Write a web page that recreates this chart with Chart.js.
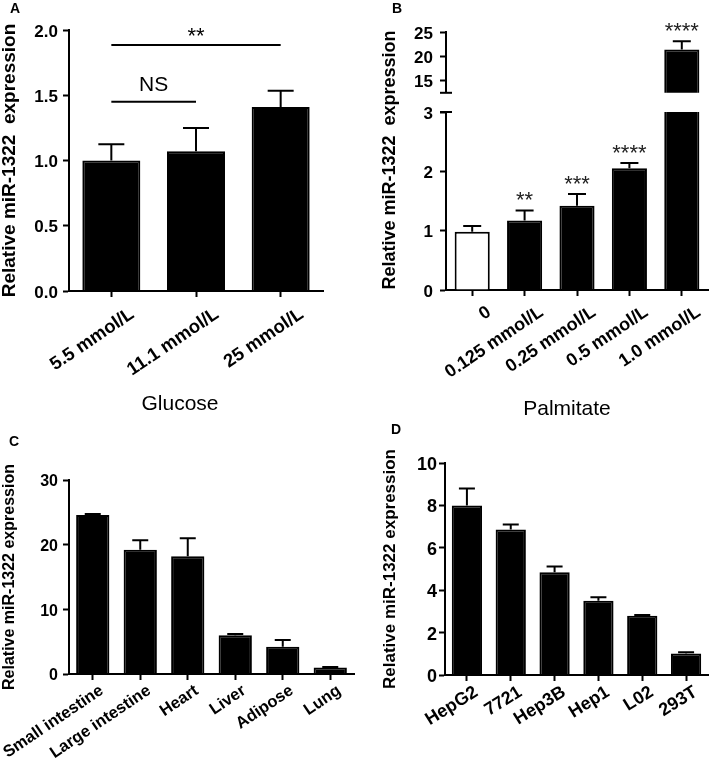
<!DOCTYPE html>
<html>
<head>
<meta charset="utf-8">
<script src="https://cdn.jsdelivr.net/npm/chart.js@4.4.1/dist/chart.umd.min.js"></script>
<style>
body{margin:0;background:#fff;}
#wrap{position:relative;width:709px;height:764px;font-family:'Liberation Sans',Arial,sans-serif;color:#000;}
canvas{position:absolute;}
.pl{position:absolute;font-weight:bold;font-size:14px;line-height:1;transform:translate(-50%,-50%);}
.xt{position:absolute;font-size:21px;line-height:1;transform:translate(-50%,-50%);white-space:nowrap;}
</style>
</head>
<body>
<div id="wrap">
  <canvas id="cA" width="355" height="395" style="left:0;top:0"></canvas>
  <canvas id="cBt" width="354" height="110" style="left:355px;top:0"></canvas>
  <canvas id="cB" width="354" height="395" style="left:355px;top:0"></canvas>
  <canvas id="cC" width="355" height="344" style="left:0;top:420px"></canvas>
  <canvas id="cD" width="354" height="344" style="left:355px;top:420px"></canvas>
  <div class="pl" style="left:15px;top:8px">A</div>
  <div class="pl" style="left:397px;top:8px">B</div>
  <div class="pl" style="left:14px;top:441px">C</div>
  <div class="pl" style="left:396px;top:429px">D</div>
  <div class="xt" style="left:180px;top:402px">Glucose</div>
  <div class="xt" style="left:567px;top:407px">Palmitate</div>
</div>
<script>
// A - glucose
const catsA = ['5.5 mmol/L', '11.1 mmol/L', '25 mmol/L'];
const meanA = [1.0, 1.07, 1.41];
const sdA = [0.125, 0.18, 0.125];
const yTicksA = [0, 0.5, 1, 1.5, 2];
const yLabelsA = ['0.0', '0.5', '1.0', '1.5', '2.0'];
const sigA = [
  {from: 0, to: 2, at: 1.885, text: '**'},
  {from: 0, to: 1, at: 1.45, text: 'NS'}
];

// B - palmitate (broken axis)
const catsB = ['0', '0.125 mmol/L', '0.25 mmol/L', '0.5 mmol/L', '1.0 mmol/L'];
const meanB = [0.98, 1.17, 1.42, 2.05, 21.4];
const sdB = [0.1, 0.17, 0.2, 0.09, 1.7];
const starsB = ['', '**', '***', '****', '****'];
const colorsB = ['#fff', '#000', '#000', '#000', '#000'];
const yTicksBlow = [0, 1, 2, 3];
const yTicksBhigh = [15, 20, 25];
const rangeBlow = [0, 3];
const rangeBhigh = [12.5, 25];

// C - tissues
const catsC = ['Small intestine', 'Large intestine', 'Heart', 'Liver', 'Adipose', 'Lung'];
const meanC = [24.6, 19.2, 18.2, 6.0, 4.2, 1.0];
const sdC = [0.15, 1.5, 2.8, 0.2, 1.05, 0.1];
const yTicksC = [0, 10, 20, 30];

// D - cell lines
const catsD = ['HepG2', '7721', 'Hep3B', 'Hep1', 'L02', '293T'];
const meanD = [8.0, 6.86, 4.85, 3.5, 2.79, 1.02];
const sdD = [0.8, 0.24, 0.27, 0.17, 0.04, 0.05];
const yTicksD = [0, 2, 4, 6, 8, 10];

const FONT = "'Liberation Sans', Arial, sans-serif";
const TITLE = 'Relative miR-1322  expression';
const TITLE1 = 'Relative miR-1322 expression';

// error bars, stars, significance lines, axis break caps
const extras = {
  id: 'extras',
  afterDatasetsDraw(chart, args, o) {
    const ctx = chart.ctx;
    const x = chart.scales.x, y = chart.scales.y;
    const data = chart.data.datasets[0].data;
    ctx.save();
    ctx.strokeStyle = '#000';
    ctx.fillStyle = '#000';
    ctx.lineWidth = 2;

    function label(text, cx, lineY, gap, size) {
      ctx.font = size + 'px ' + FONT;
      ctx.textAlign = 'center';
      ctx.textBaseline = 'alphabetic';
      const m = ctx.measureText(text);
      ctx.fillText(text, cx, lineY - gap - m.actualBoundingBoxDescent);
    }

    (o.sd || []).forEach((s, i) => {
      const v = data[i];
      if (v == null || v > y.max) return;
      const cx = x.getPixelForValue(i);
      const y0 = y.getPixelForValue(v);
      const y1 = y.getPixelForValue(v + s);
      ctx.beginPath();
      ctx.moveTo(cx, y0); ctx.lineTo(cx, y1);
      ctx.moveTo(cx - o.cap, y1); ctx.lineTo(cx + o.cap, y1);
      ctx.stroke();
      if (o.stars && o.stars[i] && v + s <= y.max) {
        ctx.fillStyle = '#222';
        label(o.stars[i], cx, y1, 10, 22);
        ctx.fillStyle = '#000';
      }
    });

    (o.sig || []).forEach(g => {
      const x0 = x.getPixelForValue(g.from), x1 = x.getPixelForValue(g.to);
      const ly = y.getPixelForValue(g.at);
      ctx.beginPath();
      ctx.moveTo(x0, ly); ctx.lineTo(x1, ly);
      ctx.stroke();
      label(g.text, (x0 + x1) / 2, ly, g.text == 'NS' ? 11 : 9, g.text == 'NS' ? 21 : 22);
    });

    if (o.breakAt) {
      const by = o.breakAt == 'top' ? y.top : y.bottom;
      ctx.beginPath();
      ctx.moveTo(x.left - 6, by); ctx.lineTo(x.left + 6, by);
      ctx.stroke();
    }

    if (o.sideTitle) {
      const t = o.sideTitle;
      ctx.translate(t.cx, t.cy);
      ctx.rotate(-Math.PI / 2);
      ctx.font = 'bold ' + t.size + 'px ' + FONT;
      ctx.textAlign = 'center';
      ctx.textBaseline = 'middle';
      ctx.fillText(t.text, 0, 0);
    }
    ctx.restore();
  }
};

function yAxis(range, ticks, labels, width, tickSize, tickPad, title, titleSize, titlePad) {
  return {
    min: range[0], max: range[1],
    afterFit: s => { s.width = width; },
    afterBuildTicks: s => { s.ticks = ticks.map(v => ({value: v})); },
    border: {display: true, color: '#000', width: 2},
    grid: {drawOnChartArea: false, drawTicks: true, tickLength: 6, tickWidth: 2, tickColor: '#000'},
    ticks: {color: '#000', padding: tickPad, labelOffset: 2,
      font: {family: FONT, size: tickSize, weight: 'bold'},
      callback: (v, i) => labels ? labels[i] : String(ticks[i])},
    title: {display: !!title, text: title, color: '#000',
      font: {family: FONT, size: titleSize, weight: 'bold', lineHeight: 1},
      padding: {top: titlePad, bottom: 0}}
  };
}

function xAxis(height, rot, size, off, pad, show) {
  return {
    display: show,
    afterFit: s => { s.height = height; s.paddingLeft = 0; s.paddingRight = 0; },
    border: {display: true, color: '#000', width: 2},
    grid: {offset: false, drawOnChartArea: false, drawTicks: true, tickLength: 6, tickWidth: 2, tickColor: '#000'},
    ticks: {color: '#000', autoSkip: false, minRotation: rot, maxRotation: rot,
      labelOffset: off, padding: pad,
      font: {family: FONT, size: size, weight: 'bold'}}
  };
}

function makeChart(id, cats, values, colors, bar, pad, x, y, ex) {
  return new Chart(document.getElementById(id), {
    type: 'bar',
    data: {
      labels: cats,
      datasets: [{data: values, backgroundColor: colors, borderColor: '#000', borderWidth: 2,
        borderSkipped: 'start', barPercentage: bar, categoryPercentage: 1, clip: 0}]
    },
    options: {
      responsive: false, animation: false, devicePixelRatio: 1,
      layout: {padding: pad},
      plugins: {legend: {display: false}, tooltip: {enabled: false}, extras: ex},
      scales: {x: x, y: y}
    },
    plugins: [extras]
  });
}

// A
makeChart('cA', catsA, meanA, '#000', 0.685,
  {left: 0, right: 32, top: 30, bottom: 0},
  xAxis(104, 34, 18.5, 21, 6.3, true),
  yAxis([0, 2], yTicksA, yLabelsA, 69, 17, 5, TITLE, 19, 0.5),
  {sd: sdA, cap: 13, sig: sigA});

// B upper part
makeChart('cBt', catsB, meanB.map(v => v > rangeBhigh[0] ? v : null), colorsB, 0.67,
  {left: 0, right: 1, top: 32, bottom: 15},
  xAxis(0, 34, 18, 17, 5.5, false),
  yAxis(rangeBhigh, yTicksBhigh, null, 91, 17, 7, '', 18, 0),
  {sd: sdB, cap: 9, stars: starsB, breakAt: 'bottom'});

// B lower part
makeChart('cB', catsB, meanB, colorsB, 0.67,
  {left: 0, right: 1, top: 112, bottom: 0},
  xAxis(105, 34, 18, 17, 5.5, true),
  yAxis(rangeBlow, yTicksBlow, null, 91, 17, 7, '', 18, 0),
  {sd: sdB, cap: 9, stars: starsB, breakAt: 'top',
   sideTitle: {text: TITLE, cx: 35, cy: 160, size: 18}});

// C
makeChart('cC', catsC, meanC, '#000', 0.7,
  {left: 0, right: 1, top: 60, bottom: 0},
  xAxis(90, 34, 16.5, 9, 1, true),
  yAxis([0, 30], yTicksC, null, 69, 16, 5, TITLE1, 16, 2),
  {sd: sdC, cap: 8});

// D
makeChart('cD', catsD, meanD, '#000', 0.69,
  {left: 0, right: 1, top: 43, bottom: 0},
  xAxis(89, 32, 18, 9.5, 0.5, true),
  yAxis([0, 10], yTicksD, null, 90, 18, 2, TITLE1, 17, 27),
  {sd: sdD, cap: 8});
</script>
</body>
</html>
